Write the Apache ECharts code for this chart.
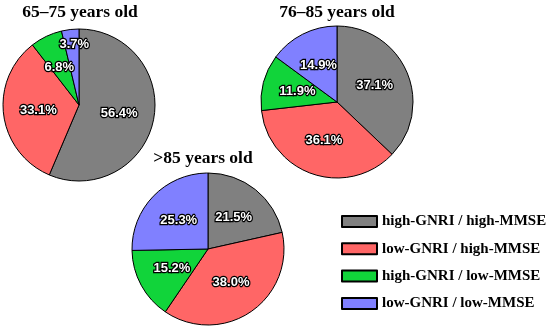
<!DOCTYPE html>
<html><head><meta charset="utf-8">
<script src="https://cdn.jsdelivr.net/npm/echarts@6/dist/echarts.min.js"></script>
<style>html,body{margin:0;padding:0;background:#fff}#c{width:550px;height:331px}</style>
</head><body><div id="c"></div>
<script>
const categories = ['high-GNRI / high-MMSE', 'low-GNRI / high-MMSE', 'high-GNRI / low-MMSE', 'low-GNRI / low-MMSE'];
const groups = ['65–75 years old', '76–85 years old', '>85 years old'];
const values65_75 = [56.4, 33.1, 6.8, 3.7];
const values76_85 = [37.1, 36.1, 11.9, 14.9];
const values85plus = [21.5, 38.0, 15.2, 25.3];
const colors = ['#808080', '#ff6666', '#11d43a', '#8080ff'];

const allValues = [values65_75, values76_85, values85plus];
const centers = [[79, 105], [337, 102], [208, 249]];
const titlePos = [[80, 3], [337, 3], [203, 149]];
// small label nudges (series 0 only) for the thin slices
const labelNudge = {'0-2': [-2, -1], '0-3': [0, -20]};

const chart = echarts.init(document.getElementById('c'));
chart.setOption({
  animation: false,
  color: colors,
  title: groups.map((g, i) => ({
    text: g, left: titlePos[i][0], top: titlePos[i][1], textAlign: 'center', padding: 0,
    textStyle: {fontFamily: 'Liberation Serif', fontWeight: 'bold', fontSize: 17.5, color: '#000'}
  })),
  legend: {
    data: categories, orient: 'vertical', left: 341, top: 214, padding: 0,
    itemWidth: 35, itemHeight: 11, itemGap: 12.3,
    icon: 'rect',
    textStyle: {fontFamily: 'Liberation Serif', fontWeight: 'bold', fontSize: 15, color: '#000', padding: [0, 0, 0, 0]}
  },
  series: allValues.map((vals, i) => ({
    type: 'pie', center: centers[i], radius: 76, startAngle: 90, clockwise: true,
    avoidLabelOverlap: false,
    itemStyle: {borderColor: '#000', borderWidth: 1},
    label: {
      show: true, position: 'inside',
      formatter: p => p.value.toFixed(1) + '%',
      fontFamily: 'Liberation Sans', fontWeight: 'bold', fontSize: 13,
      color: '#fff', textBorderColor: '#000', textBorderWidth: 2.5
    },
    labelLayout: function (p) {
      const n = labelNudge[p.seriesIndex + '-' + p.dataIndex];
      return n ? {dx: n[0], dy: n[1], hideOverlap: false} : {hideOverlap: false};
    },
    emphasis: {disabled: true},
    data: categories.map((c, j) => ({name: c, value: vals[j]}))
  }))
});
</script></body></html>
